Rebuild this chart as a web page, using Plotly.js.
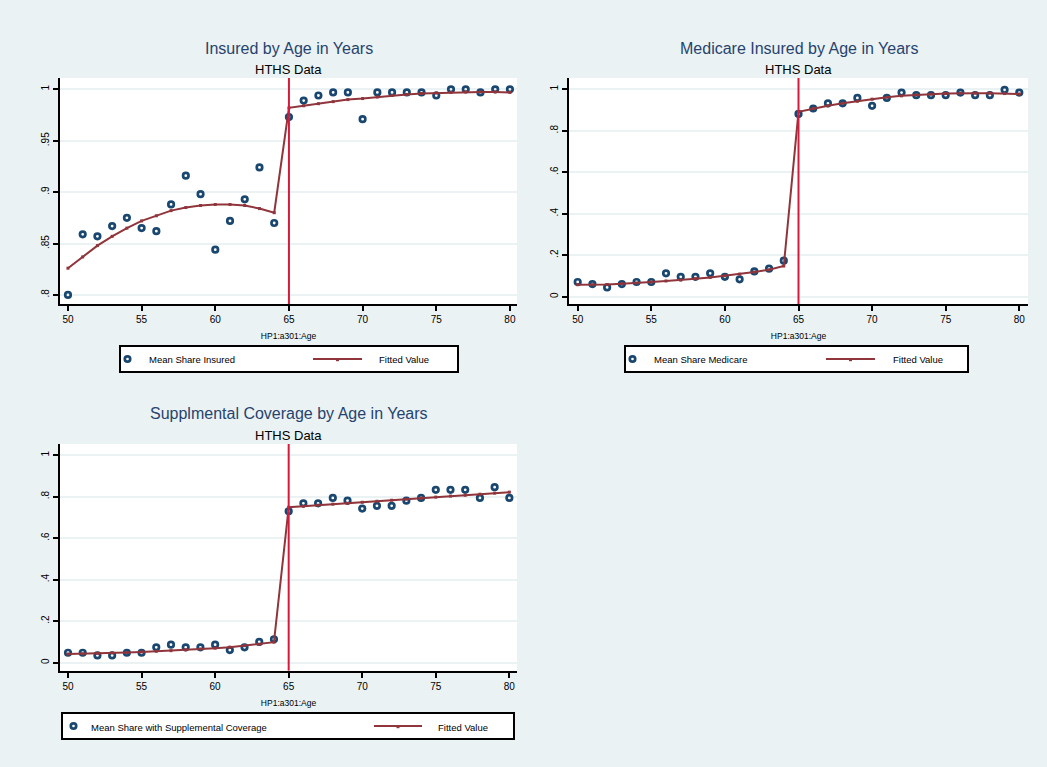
<!DOCTYPE html>
<html>
<head>
<meta charset="utf-8">
<script src="https://cdn.plot.ly/plotly-3.0.1.min.js"></script>
<style>
  html, body { margin: 0; padding: 0; background: #eaf2f3; }
  #chart { width: 1047px; height: 767px; }
</style>
</head>
<body>
<div id="chart"></div>
<script>
// ---- data ----
const ages = [50,51,52,53,54,55,56,57,58,59,60,61,62,63,64,65,66,67,68,69,70,71,72,73,74,75,76,77,78,79,80];
const cutoffAge = 65;

const insuredMean = [0.800,0.859,0.857,0.867,0.875,0.865,0.862,0.888,0.916,0.898,0.844,0.872,0.893,0.924,0.870,
                     0.973,0.989,0.994,0.997,0.997,0.971,0.997,0.997,0.997,0.997,0.994,1.000,1.000,0.997,1.000,1.000];
const insuredFit  = [0.826,0.837,0.848,0.857,0.865,0.872,0.877,0.882,0.885,0.887,0.888,0.888,0.887,0.884,0.880,
                     0.982,0.984,0.986,0.988,0.990,0.991,0.9925,0.994,0.995,0.996,0.9965,0.997,0.9975,0.9975,0.9975,0.997];

const medicareMean = [0.071,0.061,0.045,0.061,0.071,0.071,0.113,0.096,0.096,0.113,0.096,0.084,0.122,0.135,0.174,
                      0.881,0.907,0.932,0.932,0.958,0.920,0.958,0.984,0.971,0.971,0.971,0.984,0.971,0.971,0.997,0.984];
const medicareFit  = [0.058,0.058,0.059,0.063,0.066,0.071,0.076,0.080,0.087,0.093,0.101,0.109,0.119,0.130,0.148,
                      0.891,0.907,0.920,0.932,0.942,0.952,0.961,0.968,0.973,0.976,0.979,0.981,0.981,0.981,0.979,0.977];

const suppMean = [0.048,0.048,0.035,0.035,0.048,0.048,0.074,0.087,0.074,0.074,0.087,0.061,0.074,0.100,0.113,
                  0.730,0.768,0.768,0.794,0.781,0.743,0.756,0.756,0.781,0.794,0.833,0.833,0.833,0.794,0.846,0.794];
const suppFit  = [0.042,0.043,0.045,0.047,0.049,0.052,0.055,0.058,0.062,0.066,0.070,0.075,0.082,0.089,0.099,
                  0.749,0.754,0.759,0.764,0.768,0.773,0.778,0.783,0.788,0.793,0.798,0.803,0.807,0.812,0.817,0.822];

const xTicks = [50,55,60,65,70,75,80];
const yTicksTop = [0.8,0.85,0.9,0.95,1];
const yTickTextTop = [".8",".85",".9",".95","1"];
const yTicksShare = [0,0.2,0.4,0.6,0.8,1];
const yTickTextShare = ["0",".2",".4",".6",".8","1"];

const titles = ["Insured by Age in Years", "Medicare Insured by Age in Years", "Supplmental Coverage by Age in Years"];
const subtitle = "HTHS Data";
const xTitle = "HP1:a301:Age";
const meanNames = ["Mean Share Insured", "Mean Share Medicare", "Mean Share with Supplemental Coverage"];
const fitName = "Fitted Value";

// ---- styles ----
const FONT = "Liberation Sans, Arial, sans-serif";
const NAVY = "#1a476f";
const MAROON = "#90353b";
const RED = "#d71a3c";
const BG = "#eaf2f3";

function meanTrace(y, name, xa, ya) {
  return {x: ages, y: y, name: name, type: "scatter", mode: "markers",
    xaxis: xa, yaxis: ya, cliponaxis: false, showlegend: false,
    marker: {symbol: "circle-open", size: 5.5, color: NAVY, line: {color: NAVY, width: 2.7}}};
}
function fitTrace(y, xa, ya) {
  return {x: ages, y: y, name: fitName, type: "scatter", mode: "lines+markers",
    xaxis: xa, yaxis: ya, cliponaxis: false, showlegend: false,
    line: {color: MAROON, width: 2},
    marker: {symbol: "square", size: 3, color: MAROON}};
}

const data = [
  meanTrace(insuredMean, meanNames[0], "x", "y"),
  fitTrace(insuredFit, "x", "y"),
  meanTrace(medicareMean, meanNames[1], "x2", "y2"),
  fitTrace(medicareFit, "x2", "y2"),
  meanTrace(suppMean, meanNames[2], "x3", "y3"),
  fitTrace(suppFit, "x3", "y3")
];

function xAxis(domain, range, anchor) {
  return {domain: domain, range: range, anchor: anchor,
    tickmode: "array", tickvals: xTicks, ticks: "outside", ticklen: 5, tickwidth: 2, tickcolor: "#000",
    showline: true, linecolor: "#000", linewidth: 2, showgrid: false, zeroline: false,
    tickfont: {family: FONT, size: 10, color: "#000"},
    title: {text: xTitle, font: {family: FONT, size: 8.5, color: "#000"}, standoff: 9},
    automargin: false, fixedrange: true};
}
function yAxis(domain, range, anchor, vals, text) {
  return {domain: domain, range: range, anchor: anchor,
    tickmode: "array", tickvals: vals, ticktext: text, tickangle: -90,
    ticks: "outside", ticklen: 5, tickwidth: 2, tickcolor: "#000",
    showline: true, linecolor: "#000", linewidth: 2,
    showgrid: true, gridcolor: BG, gridwidth: 2, zeroline: false,
    tickfont: {family: FONT, size: 10, color: "#000"},
    automargin: false, fixedrange: true};
}

const W = 1047, H = 767;
const px = v => v / W, py = v => 1 - v / H;

const colL = [px(60), px(517)], colR = [px(569), px(1028)];
const rowT = [py(304), py(78)], rowB = [py(670.7), py(444)];

function titleAnn(text, x, y) {
  return {text: text, x: x, y: y, xref: "paper", yref: "paper", showarrow: false,
    xanchor: "center", yanchor: "middle", font: {family: FONT, size: 16, color: "#27436f"}};
}
function subAnn(x, y) {
  return {text: subtitle, x: x, y: y, xref: "paper", yref: "paper", showarrow: false,
    xanchor: "center", yanchor: "middle", font: {family: FONT, size: 13, color: "#000"}};
}
function cutLine(xa, ya) {
  return {type: "line", xref: xa, yref: ya + " domain", x0: cutoffAge, x1: cutoffAge, y0: 0, y1: 1,
    line: {color: RED, width: 2}, layer: "above"};
}

// legend key: box, mean-marker key, fitted-line key and the two labels (pixel geometry)
function legendKey(box, markX, textX, lineX0, lineX1, fitTextX, label) {
  const cy = (box[2] + box[3]) / 2;
  const shapes = [
    {type: "rect", xref: "paper", yref: "paper", x0: px(box[0]), x1: px(box[1]), y0: py(box[3]), y1: py(box[2]),
     line: {color: "#000", width: 2}, fillcolor: "#ffffff", layer: "above"},
    {type: "circle", xref: "paper", yref: "paper", x0: px(markX - 2.7), x1: px(markX + 2.7),
     y0: py(cy + 2.7), y1: py(cy - 2.7), line: {color: NAVY, width: 2.7}, fillcolor: "#ffffff", layer: "above"},
    {type: "line", xref: "paper", yref: "paper", x0: px(lineX0), x1: px(lineX1), y0: py(cy), y1: py(cy),
     line: {color: MAROON, width: 2}, layer: "above"},
    {type: "rect", xref: "paper", yref: "paper", x0: px((lineX0 + lineX1) / 2 - 1.5), x1: px((lineX0 + lineX1) / 2 + 1.5),
     y0: py(cy + 2.2), y1: py(cy - 0.8), line: {width: 0}, fillcolor: MAROON, layer: "above"}
  ];
  const anns = [
    {text: label, x: px(textX), y: py(cy + 1), xref: "paper", yref: "paper", showarrow: false,
     xanchor: "left", yanchor: "middle", font: {family: FONT, size: 9.5, color: "#000"}},
    {text: fitName, x: px(fitTextX), y: py(cy + 1), xref: "paper", yref: "paper", showarrow: false,
     xanchor: "left", yanchor: "middle", font: {family: FONT, size: 9.5, color: "#000"}}
  ];
  return {shapes, anns};
}

const lg1 = legendKey([120, 458, 346, 372], 127.5, 147, 313, 362, 377, meanNames[0]);
const lg2 = legendKey([625, 968, 346, 372], 632.5, 652, 826, 875, 891, meanNames[1]);
const lg3 = legendKey([62, 514, 713, 739], 73.5, 89, 374, 422, 436, meanNames[2]);

const layout = {
  width: W, height: H,
  margin: {l: 0, r: 0, t: 0, b: 0},
  paper_bgcolor: BG, plot_bgcolor: "#ffffff",
  font: {family: FONT},
  showlegend: false,
  xaxis: xAxis(colL, [49.46, 80.48], "y"),
  yaxis: yAxis(rowT, [0.7912, 1.011], "x", yTicksTop, yTickTextTop),
  xaxis2: xAxis(colR, [49.41, 80.59], "y2"),
  yaxis2: yAxis(rowT, [-0.035, 1.054], "x2", yTicksShare, yTickTextShare),
  xaxis3: xAxis(colL, [49.456, 80.52], "y3"),
  yaxis3: yAxis(rowB, [-0.0386, 1.054], "x3", yTicksShare, yTickTextShare),
  shapes: [cutLine("x", "y"), cutLine("x2", "y2"), cutLine("x3", "y3")]
    .concat(lg1.shapes, lg2.shapes, lg3.shapes),
  annotations: [
    titleAnn(titles[0], px(288.5), py(48)), subAnn(px(288.5), py(69)),
    titleAnn(titles[1], px(798.5), py(48)), subAnn(px(798.5), py(69)),
    titleAnn(titles[2], px(288.5), py(414)), subAnn(px(288.5), py(435))
  ].concat(lg1.anns, lg2.anns, lg3.anns)
};

Plotly.newPlot("chart", data, layout, {displayModeBar: false, staticPlot: true});
</script>
</body>
</html>
